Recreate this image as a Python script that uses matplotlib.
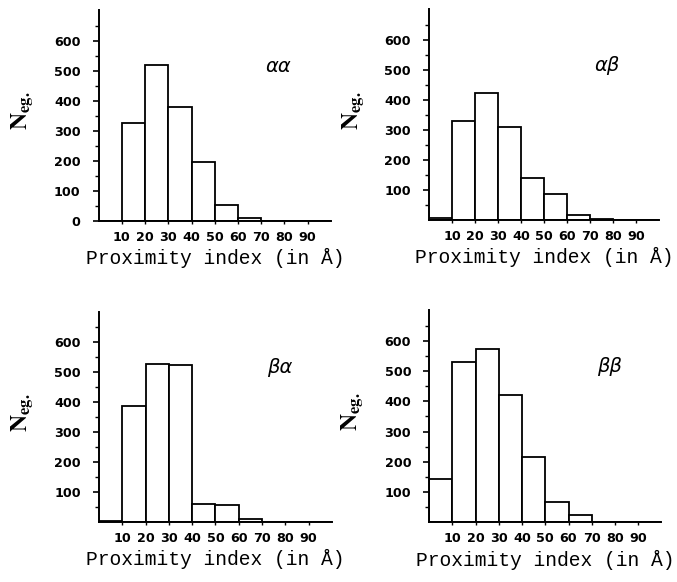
import matplotlib
matplotlib.use("Agg")
import matplotlib.pyplot as plt
import numpy as np

# Data (counts per 10 Å bin, bins 0-10 ... 90-100)
bin_edges = [0, 10, 20, 30, 40, 50, 60, 70, 80, 90, 100]
counts_aa = [0, 325, 518, 379, 195, 54, 10, 1, 0, 0]
counts_ab = [5, 329, 422, 311, 140, 87, 17, 2, 0, 0]
counts_ba = [3, 387, 528, 525, 59, 57, 9, 0, 0, 0]
counts_bb = [144, 530, 572, 422, 217, 66, 22, 0, 0, 0]
panel_labels = ["\u03b1\u03b1", "\u03b1\u03b2", "\u03b2\u03b1", "\u03b2\u03b2"]
xtick_labels = ["10", "20", "30", "40", "50", "60", "70", "80", "90"]
xtick_vals = [10, 20, 30, 40, 50, 60, 70, 80, 90]

plt.rcParams["mathtext.fontset"] = "stix"

fig = plt.figure(figsize=(6.77, 5.82), dpi=100)

positions = [
    [0.1458, 0.6203, 0.343, 0.3625],
    [0.6337, 0.6220, 0.340, 0.3620],
    [0.1462, 0.1036, 0.344, 0.3610],
    [0.6340, 0.1030, 0.343, 0.3640],
]
all_counts = [counts_aa, counts_ab, counts_ba, counts_bb]

for i, (pos, counts, lab) in enumerate(zip(positions, all_counts, panel_labels)):
    ax = fig.add_axes(pos)
    lefts = np.array(bin_edges[:-1])
    widths = np.diff(bin_edges)
    ax.bar(lefts, counts, width=widths, align="edge", facecolor="white",
           edgecolor="black", linewidth=1.3)
    ax.set_xlim(0, 100)
    ax.set_ylim(0, 702)
    for s in ["top", "right"]:
        ax.spines[s].set_visible(False)
    for s in ["left", "bottom"]:
        ax.spines[s].set_linewidth(1.4)
    if i == 0:
        yt = [0, 100, 200, 300, 400, 500, 600]
    else:
        yt = [100, 200, 300, 400, 500, 600]
    ax.set_yticks(yt)
    ax.set_yticklabels([str(v) for v in yt], fontfamily="DejaVu Sans",
                       fontweight="bold", fontsize=9.2)
    ax.set_yticks([50, 150, 250, 350, 450, 550, 650], minor=True)
    ax.set_xticks(xtick_vals)
    ax.set_xticklabels(xtick_labels, fontfamily="DejaVu Sans",
                       fontweight="bold", fontsize=9.2)
    ax.tick_params(axis="y", which="major", direction="out", length=4,
                   width=1.2, pad=9)
    ax.tick_params(axis="y", which="minor", direction="out", length=3,
                   width=1.0)
    ax.tick_params(axis="x", which="major", direction="out", length=2.5,
                   width=1.0, pad=5)
    ax.set_xlabel("Proximity index (in \u00c5)", fontfamily="Liberation Mono",
                  fontsize=14.1)
    ax.xaxis.set_label_coords(0.5, -0.13)
    ax.xaxis.label.set_va("top")
    ax.set_ylabel(r"$\mathbf{N_{eg.}}$", fontsize=17)
    ax.yaxis.set_label_coords(-0.33, 0.52)
    ax.yaxis.label.set_va("center")
    ax.text(77.5, 515, lab, fontfamily="DejaVu Sans", fontstyle="italic",
            fontsize=14, ha="center", va="center")

fig.savefig("out.png", dpi=100)
